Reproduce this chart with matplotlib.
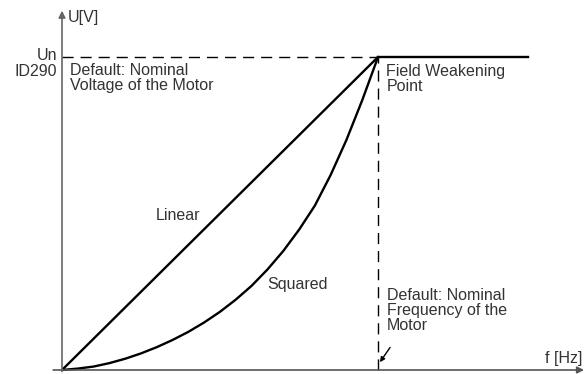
import matplotlib
matplotlib.use("Agg")
import matplotlib.pyplot as plt

# Frequency in Hz, voltage in % of the nominal motor voltage
f_nominal = 50.0
u_nominal = 100.0

# Linear U/f ratio
linear_f = [0.0, 50.0]
linear_u = [0.0, 100.0]

# Squared U/f ratio
squared_f = [0.0, 2.5, 5.0, 7.5, 10.0, 12.5, 15.0, 17.5, 20.0, 22.5, 25.0,
             27.5, 30.0, 32.5, 35.0, 37.5, 40.0, 42.5, 45.0, 47.5, 50.0]
squared_u = [0.0, 0.45, 1.1, 2.2, 3.6, 5.3, 7.3, 9.6, 12.2, 15.2, 18.6,
             22.5, 26.9, 32.1, 38.0, 44.8, 52.5, 62.3, 73.5, 86.2, 100.0]

# Constant voltage above the field weakening point
flat_f = [50.0, 73.7]
flat_u = [100.0, 100.0]

plt.rcParams['font.family'] = ['Liberation Sans', 'DejaVu Sans']
text_color = '#333333'
fs = 11.5
ls = 1.0

fig = plt.figure(figsize=(5.86, 3.74), dpi=100)
ax = fig.add_axes([0, 0, 1, 1])
ax.set_xlim(-9.81, 82.9)
ax.set_ylim(-1.28, 118.2)
ax.axis('off')

# Axes with arrowheads
ax.annotate('', xy=(82.6, 0), xytext=(-1.4, 0),
            arrowprops=dict(arrowstyle='-|>', color='#555555', lw=1.2,
                            mutation_scale=10, shrinkA=0, shrinkB=0))
ax.annotate('', xy=(0, 114.8), xytext=(0, -0.5),
            arrowprops=dict(arrowstyle='-|>', color='#666666', lw=1.2,
                            mutation_scale=10, shrinkA=0, shrinkB=0))

# Reference dashed lines
ax.plot([0, f_nominal], [u_nominal, u_nominal], color='black', lw=1.0,
        dashes=(8, 5))
ax.plot([f_nominal, f_nominal], [0, u_nominal], color='black', lw=1.0,
        dashes=(8, 5))

# Characteristic curves
ax.plot(linear_f, linear_u, color='black', lw=1.7, solid_capstyle='round')
ax.plot(squared_f, squared_u, color='black', lw=1.7, solid_capstyle='round',
        solid_joinstyle='round')
ax.plot(flat_f, flat_u, color='black', lw=1.7)

# Labels
ax.text(0.95, 112.5, 'U[V]', color=text_color, fontsize=fs, va='center', ha='left')
ax.text(82.4, 3.8, 'f [Hz]', color=text_color, fontsize=fs, va='center', ha='right')
ax.text(-0.8, 100.6, 'Un', color=text_color, fontsize=fs, va='center', ha='right')
ax.text(-0.8, 95.2, 'ID290', color=text_color, fontsize=fs, va='center', ha='right')
ax.text(1.27, 98.0, 'Default: Nominal\nVoltage of the Motor', color=text_color,
        fontsize=fs, va='top', ha='left', linespacing=ls)
ax.text(51.3, 97.7, 'Field Weakening\nPoint', color=text_color,
        fontsize=fs, va='top', ha='left', linespacing=ls)
ax.text(18.4, 49.5, 'Linear', color=text_color, fontsize=fs, va='center', ha='center')
ax.text(37.2, 27.2, 'Squared', color=text_color, fontsize=fs, va='center', ha='center')
ax.text(51.4, 26.2, 'Default: Nominal\nFrequency of the\nMotor', color=text_color,
        fontsize=fs, va='top', ha='left', linespacing=ls)

# Pointer to the nominal frequency
ax.annotate('', xy=(50.3, 2.5), xytext=(51.9, 7.2),
            arrowprops=dict(arrowstyle='-|>', color='black', lw=1.0,
                            mutation_scale=7, shrinkA=0, shrinkB=0))

fig.savefig('out.png', dpi=100)
